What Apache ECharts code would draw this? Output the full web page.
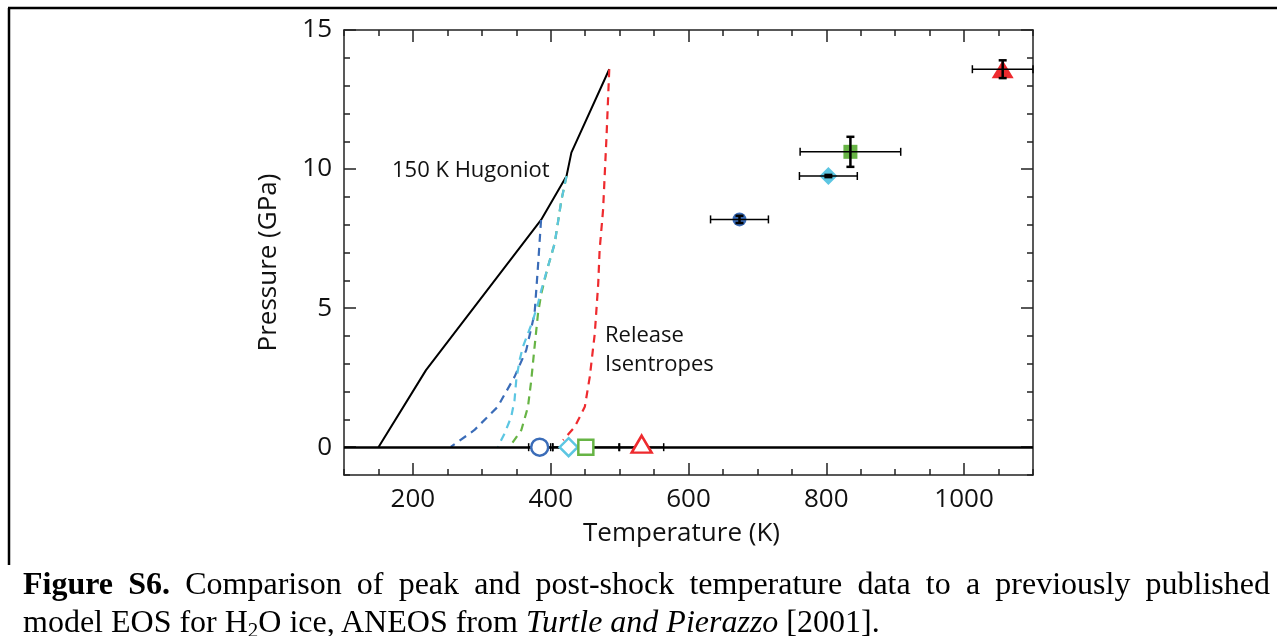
<!DOCTYPE html>
<html>
<head>
<meta charset="utf-8">
<script src="https://cdn.jsdelivr.net/npm/echarts@6/dist/echarts.min.js"></script>
<style>
  body { margin: 0; background: #fff; }
  #chart { position: absolute; left: 0; top: 0; width: 1277px; height: 636px; }
  .cap { position: absolute; left: 23px; width: 1247px; font-family: 'Liberation Serif', serif; font-size: 32px; line-height: 32px; color: #000; white-space: nowrap; }
  #cap1 { top: 567px; text-align: justify; text-align-last: justify; }
  #cap2 { top: 605px; }
  sub { font-size: 21px; line-height: 0; vertical-align: -5px; }
</style>
</head>
<body>
<div id="chart"></div>
<div class="cap" id="cap1"><b>Figure S6.</b> Comparison of peak and post-shock temperature data to a previously published</div>
<div class="cap" id="cap2">model EOS for H<sub>2</sub>O ice, ANEOS from <i>Turtle and Pierazzo</i> [2001].</div>
<script>
// tick values
const xMajorTicks = [200, 400, 600, 800, 1000];
const yMajorTicks = [0, 5, 10, 15];

// 150 K Hugoniot
const hugT = [150, 219, 386, 423, 430, 485];
const hugP = [0, 2.77, 8.17, 9.75, 10.59, 13.59];

// release isentropes
const blueT = [386, 381.5, 376.6, 364.5, 347.5, 323, 289, 255];
const blueP = [8.17, 6.49, 4.81, 3.49, 2.53, 1.45, 0.61, 0.01];
const cyanT = [423, 415.5, 405.8, 396, 386.4, 381.6, 374.3, 367, 359.7, 354.8, 350, 347.5, 342.7, 333, 323.3];
const cyanP = [9.75, 8.88, 7.33, 6.49, 5.65, 5.17, 4.57, 4.09, 3.61, 3.13, 2.41, 1.69, 1.09, 0.49, 0.01];
const greenT = [423, 415.5, 405.8, 396, 386.4, 381.6, 376.6, 371.8, 367, 357.3, 340.2];
const greenP = [9.75, 8.88, 7.33, 6.49, 5.53, 4.81, 3.61, 2.41, 1.45, 0.61, 0.01];
const redT = [485, 481, 476, 471, 469, 464, 456.7, 449.5, 434.9, 418];
const redP = [13.59, 11.16, 8.53, 7.09, 5.89, 4.09, 2.53, 1.45, 0.73, 0.25];

// peak data (blue, cyan, green, red)
const peakT = [674, 803, 835, 1056];
const peakP = [8.19, 9.75, 10.62, 13.59];
const peakTErr = [42, 42, 73, 44];
const peakPErr = [0.13, 0.04, 0.54, 0.32];

// post-shock data
const postT = [384, 426, 451, 532];
const postP = [0, 0, 0, 0];
const postTErr = [16, 23, 48, 32];

const pair = (a, b) => a.map((v, i) => [v, b[i]]);

const FONT = 'Open Sans';
const colors = ['#3a6cb8', '#5cc6e2', '#67b445', '#ee2a2e'];
const peakSymbols = [
  { symbol: 'circle', size: 14 },
  { symbol: 'diamond', size: [18, 18] },
  { symbol: 'rect', size: 14 },
  { symbol: 'triangle', size: [22, 18] },
];
const postSymbols = [
  { symbol: 'circle', size: 17 },
  { symbol: 'diamond', size: [18, 18] },
  { symbol: 'rect', size: 15 },
  { symbol: 'triangle', size: [20, 17] },
];

const chart = echarts.init(document.getElementById('chart'));

function dashed(t, p, color) {
  return {
    type: 'line',
    data: pair(t, p),
    symbol: 'none',
    z: 4,
    lineStyle: { color: color, width: 2.2, type: [8, 6] },
  };
}

function errorBars(t, p, dt, dp) {
  return {
    type: 'custom',
    z: 10,
    data: t.map((v, i) => [v, p[i], dt[i], dp ? dp[i] : 0]),
    renderItem(params, api) {
      const x = api.value(0);
      const y = api.value(1);
      const ex = api.value(2);
      const ey = api.value(3);
      const l = api.coord([x - ex, y]);
      const r = api.coord([x + ex, y]);
      const style = { stroke: '#000', lineWidth: 1.5 };
      const children = [
        { type: 'line', shape: { x1: l[0], y1: l[1], x2: r[0], y2: r[1] }, style },
        { type: 'line', shape: { x1: l[0], y1: l[1] - 4, x2: l[0], y2: l[1] + 4 }, style },
        { type: 'line', shape: { x1: r[0], y1: r[1] - 4, x2: r[0], y2: r[1] + 4 }, style },
      ];
      if (ey > 0) {
        const b = api.coord([x, y - ey]);
        const tp = api.coord([x, y + ey]);
        const vs = { stroke: '#000', lineWidth: 2.5 };
        children.push(
          { type: 'line', shape: { x1: b[0], y1: b[1], x2: tp[0], y2: tp[1] }, style: vs },
          { type: 'line', shape: { x1: b[0] - 4, y1: b[1], x2: b[0] + 4, y2: b[1] }, style: vs },
          { type: 'line', shape: { x1: tp[0] - 4, y1: tp[1], x2: tp[0] + 4, y2: tp[1] }, style: vs }
        );
      }
      return { type: 'group', children };
    },
  };
}

const axisLine = { show: true, onZero: false, lineStyle: { color: '#222', width: 1.5 } };
const hidden = { show: false, onZero: false };
const noLabel = { show: false };
const tickStyle = { color: '#222', width: 1.5 };
const plain = v => String(v);

const series = [
  {
    type: 'line',
    data: pair(hugT, hugP),
    symbol: 'none',
    z: 3,
    lineStyle: { color: '#000', width: 2 },
    markLine: {
      silent: true,
      symbol: 'none',
      label: { show: false },
      lineStyle: { color: '#000', width: 2.5, type: 'solid' },
      data: [{ yAxis: 0 }],
    },
  },
  dashed(blueT, blueP, colors[0]),
  dashed(greenT, greenP, colors[2]),
  dashed(cyanT, cyanP, colors[1]),
  dashed(redT, redP, colors[3]),
  errorBars(postT, postP, postTErr, null),
];

peakT.forEach((t, i) => {
  series.push({
    type: 'scatter',
    data: [[t, peakP[i]]],
    symbol: peakSymbols[i].symbol,
    symbolSize: peakSymbols[i].size,
    z: 8,
    itemStyle: { color: colors[i], opacity: 1 },
  });
  series.push({
    type: 'scatter',
    data: [[postT[i], postP[i]]],
    symbol: postSymbols[i].symbol,
    symbolSize: postSymbols[i].size,
    symbolOffset: i === 3 ? [0, -3] : [0, 0],
    z: 12,
    itemStyle: { color: '#fff', borderColor: colors[i], borderWidth: 2.5, opacity: 1 },
  });
});
series.push(errorBars(peakT, peakP, peakTErr, peakPErr));

chart.setOption({
  backgroundColor: '#fff',
  animation: false,
  textStyle: { fontFamily: FONT },
  grid: { left: 344, top: 30, width: 689, height: 445, containLabel: false },
  xAxis: [
    {
      type: 'value', position: 'bottom', min: 100, max: 1100,
      name: 'Temperature (K)', nameLocation: 'middle', nameGap: 46,
      nameTextStyle: { fontSize: 26, color: '#111', fontFamily: FONT, padding: [0, 14, 0, 0] },
      axisLine,
      axisTick: { show: true, inside: true, length: 12, customValues: xMajorTicks, lineStyle: tickStyle },
      axisLabel: { customValues: xMajorTicks, formatter: plain, fontSize: 26, color: '#111', margin: 12, fontFamily: FONT },
      splitLine: { show: false },
    },
    {
      type: 'value', position: 'top', min: 100, max: 1100,
      axisLine,
      axisTick: { show: true, inside: true, length: 12, customValues: xMajorTicks, lineStyle: tickStyle },
      axisLabel: noLabel, splitLine: { show: false },
    },
    {
      type: 'value', position: 'bottom', min: 100, max: 1100, interval: 50,
      axisLine: hidden,
      axisTick: { show: true, inside: true, length: 6, lineStyle: tickStyle },
      axisLabel: noLabel, splitLine: { show: false },
    },
    {
      type: 'value', position: 'top', min: 100, max: 1100, interval: 50,
      axisLine: hidden,
      axisTick: { show: true, inside: true, length: 6, lineStyle: tickStyle },
      axisLabel: noLabel, splitLine: { show: false },
    },
  ],
  yAxis: [
    {
      type: 'value', position: 'left', min: -1, max: 15,
      name: 'Pressure (GPa)', nameLocation: 'middle', nameGap: 62, nameRotate: 90,
      nameTextStyle: { fontSize: 26, color: '#111', fontFamily: FONT, padding: [0, 20, 0, 0] },
      axisLine,
      axisTick: { show: true, inside: true, length: 12, customValues: yMajorTicks, lineStyle: tickStyle },
      axisLabel: { customValues: yMajorTicks, formatter: plain, fontSize: 26, color: '#111', margin: 12, fontFamily: FONT },
      splitLine: { show: false },
    },
    {
      type: 'value', position: 'right', min: -1, max: 15,
      axisLine,
      axisTick: { show: true, inside: true, length: 12, customValues: yMajorTicks, lineStyle: tickStyle },
      axisLabel: noLabel, splitLine: { show: false },
    },
    {
      type: 'value', position: 'left', min: -1, max: 15, interval: 1,
      axisLine: hidden,
      axisTick: { show: true, inside: true, length: 6, lineStyle: tickStyle },
      axisLabel: noLabel, splitLine: { show: false },
    },
    {
      type: 'value', position: 'right', min: -1, max: 15, interval: 1,
      axisLine: hidden,
      axisTick: { show: true, inside: true, length: 6, lineStyle: tickStyle },
      axisLabel: noLabel, splitLine: { show: false },
    },
  ],
  graphic: [
    { type: 'line', shape: { x1: 8, y1: 8, x2: 1277, y2: 8 }, style: { stroke: '#000', lineWidth: 2.5 } },
    { type: 'line', shape: { x1: 9, y1: 8, x2: 9, y2: 565 }, style: { stroke: '#000', lineWidth: 2.5 } },
    { type: 'text', left: 392, top: 160, style: { text: '150 K Hugoniot', fontSize: 22, fontFamily: FONT, fill: '#111' } },
    { type: 'text', left: 605, top: 321, style: { text: 'Release\nIsentropes', fontSize: 22, lineHeight: 29, fontFamily: FONT, fill: '#111' } },
  ],
  series,
});
</script>
</body>
</html>
